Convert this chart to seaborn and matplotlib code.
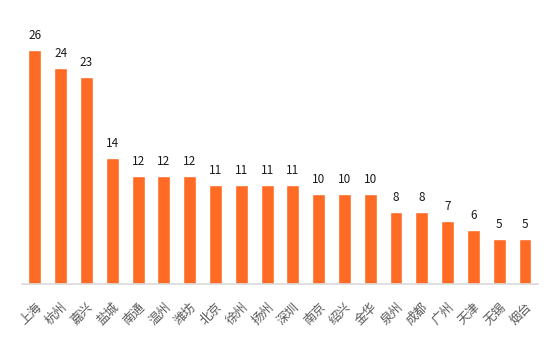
import matplotlib
matplotlib.use("Agg")
import matplotlib.pyplot as plt
import seaborn as sns
import pandas as pd

cities = ["上海", "杭州", "嘉兴", "盐城", "南通", "温州", "潍坊", "北京", "徐州", "扬州",
          "深圳", "南京", "绍兴", "金华", "泉州", "成都", "广州", "天津", "无锡", "烟台"]
counts = [26, 24, 23, 14, 12, 12, 12, 11, 11, 11, 11, 10, 10, 10, 8, 8, 7, 6, 5, 5]

df = pd.DataFrame({"city": cities, "count": counts})

sns.set_theme(style="white")
plt.rcParams["font.family"] = ["Noto Sans CJK SC", "DejaVu Sans"]

fig = plt.figure(figsize=(5.54, 3.41), dpi=100)
ax = fig.add_axes([0.0397, 0.167, 0.9313, 0.792])

sns.barplot(data=df, x="city", y="count", color="#FF6A24", saturation=1,
            width=0.5, ax=ax)

for i, v in enumerate(counts):
    ax.text(i, v + 0.9, str(v), ha="center", va="bottom", fontsize=8.5, color="#1a1a1a")

ax.set_ylim(0, 30)
ax.set_xlim(-0.5, len(cities) - 0.5)
ax.set_xlabel("")
ax.set_ylabel("")
ax.set_yticks([])
for side in ["top", "right", "left"]:
    ax.spines[side].set_visible(False)
ax.spines["bottom"].set_color("#d9d9d9")
ax.spines["bottom"].set_linewidth(1.2)
ax.tick_params(axis="x", length=0, pad=12)
for lbl in ax.get_xticklabels():
    lbl.set_rotation(45)
    lbl.set_ha("right")
    lbl.set_rotation_mode("anchor")
    lbl.set_fontsize(9)
    lbl.set_color("#595959")

fig.savefig("out.png", dpi=100)
